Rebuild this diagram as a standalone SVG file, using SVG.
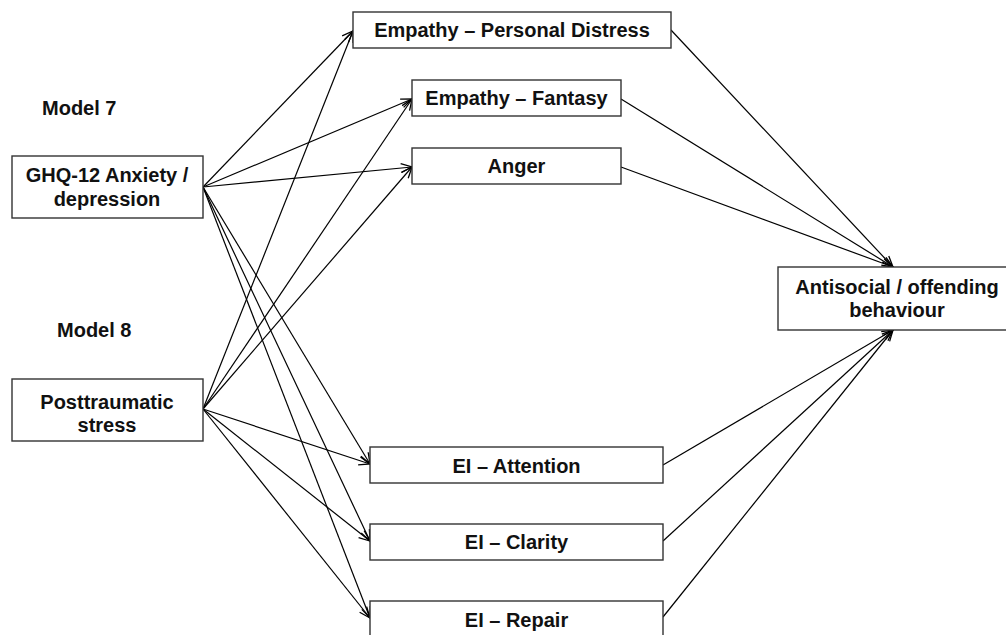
<svg xmlns="http://www.w3.org/2000/svg" width="1006" height="635" viewBox="0 0 1006 635">
<defs>
<style>
.box{fill:#fff;stroke:#333;stroke-width:1.4}
.t{font-family:"Liberation Sans",Arial,sans-serif;font-weight:bold;font-size:20px;fill:#111;text-anchor:middle}
.lbl{font-family:"Liberation Sans",Arial,sans-serif;font-weight:bold;font-size:20px;fill:#111}
.c line{stroke:#000;stroke-width:1.2;marker-end:url(#ah)}
</style>
<marker id="ah" markerUnits="userSpaceOnUse" viewBox="-12 -6 14 12" refX="0" refY="0" markerWidth="14" markerHeight="12" orient="auto" overflow="visible">
<path d="M-11,-4.5 L0,0 L-11,4.5" fill="none" stroke="#000" stroke-width="1.3"/>
</marker>
</defs>
<rect width="1006" height="635" fill="#fff"/>
<g class="c" id="connectors">
<line x1="203" y1="187" x2="353" y2="31"/>
<line x1="203" y1="187" x2="412" y2="99"/>
<line x1="203" y1="187" x2="412" y2="167"/>
<line x1="203" y1="187" x2="370" y2="464"/>
<line x1="203" y1="187" x2="370" y2="541"/>
<line x1="203" y1="187" x2="370" y2="618"/>
<line x1="203" y1="409" x2="353" y2="31"/>
<line x1="203" y1="409" x2="412" y2="99"/>
<line x1="203" y1="409" x2="412" y2="167"/>
<line x1="203" y1="409" x2="370" y2="464"/>
<line x1="203" y1="409" x2="370" y2="541"/>
<line x1="203" y1="409" x2="370" y2="618"/>
<line x1="671" y1="30" x2="893" y2="267"/>
<line x1="621" y1="99" x2="893" y2="267"/>
<line x1="621" y1="167" x2="893" y2="267"/>
<line x1="663" y1="465" x2="893" y2="330"/>
<line x1="663" y1="541" x2="893" y2="330"/>
<line x1="663" y1="617" x2="893" y2="330"/>
</g>
<g id="model7"><text class="lbl" x="42" y="115">Model 7</text></g>
<g id="model8"><text class="lbl" x="57" y="337">Model 8</text></g>
<g id="ghq"><rect class="box" x="12" y="156" width="191" height="62"/><text class="t" x="107" y="182">GHQ-12 Anxiety /</text><text class="t" x="107" y="206">depression</text></g>
<g id="pts"><rect class="box" x="12" y="379" width="191" height="62"/><text class="t" x="107" y="409">Posttraumatic</text><text class="t" x="107" y="432">stress</text></g>
<g id="epd"><rect class="box" x="353" y="12" width="318" height="36"/><text class="t" x="512" y="37">Empathy – Personal Distress</text></g>
<g id="ef"><rect class="box" x="412" y="80" width="209" height="36"/><text class="t" x="516.5" y="105">Empathy – Fantasy</text></g>
<g id="anger"><rect class="box" x="412" y="148" width="209" height="36"/><text class="t" x="516.5" y="173">Anger</text></g>
<g id="eia"><rect class="box" x="370" y="447" width="293" height="36"/><text class="t" x="516.5" y="472.5">EI – Attention</text></g>
<g id="eic"><rect class="box" x="370" y="524" width="293" height="36"/><text class="t" x="516.5" y="549">EI – Clarity</text></g>
<g id="eir"><rect class="box" x="370" y="601" width="293" height="37"/><text class="t" x="516.5" y="627">EI – Repair</text></g>
<g id="asb"><rect class="box" x="778" y="267" width="238" height="63"/><text class="t" x="897" y="294">Antisocial / offending</text><text class="t" x="897" y="317">behaviour</text></g>
</svg>
